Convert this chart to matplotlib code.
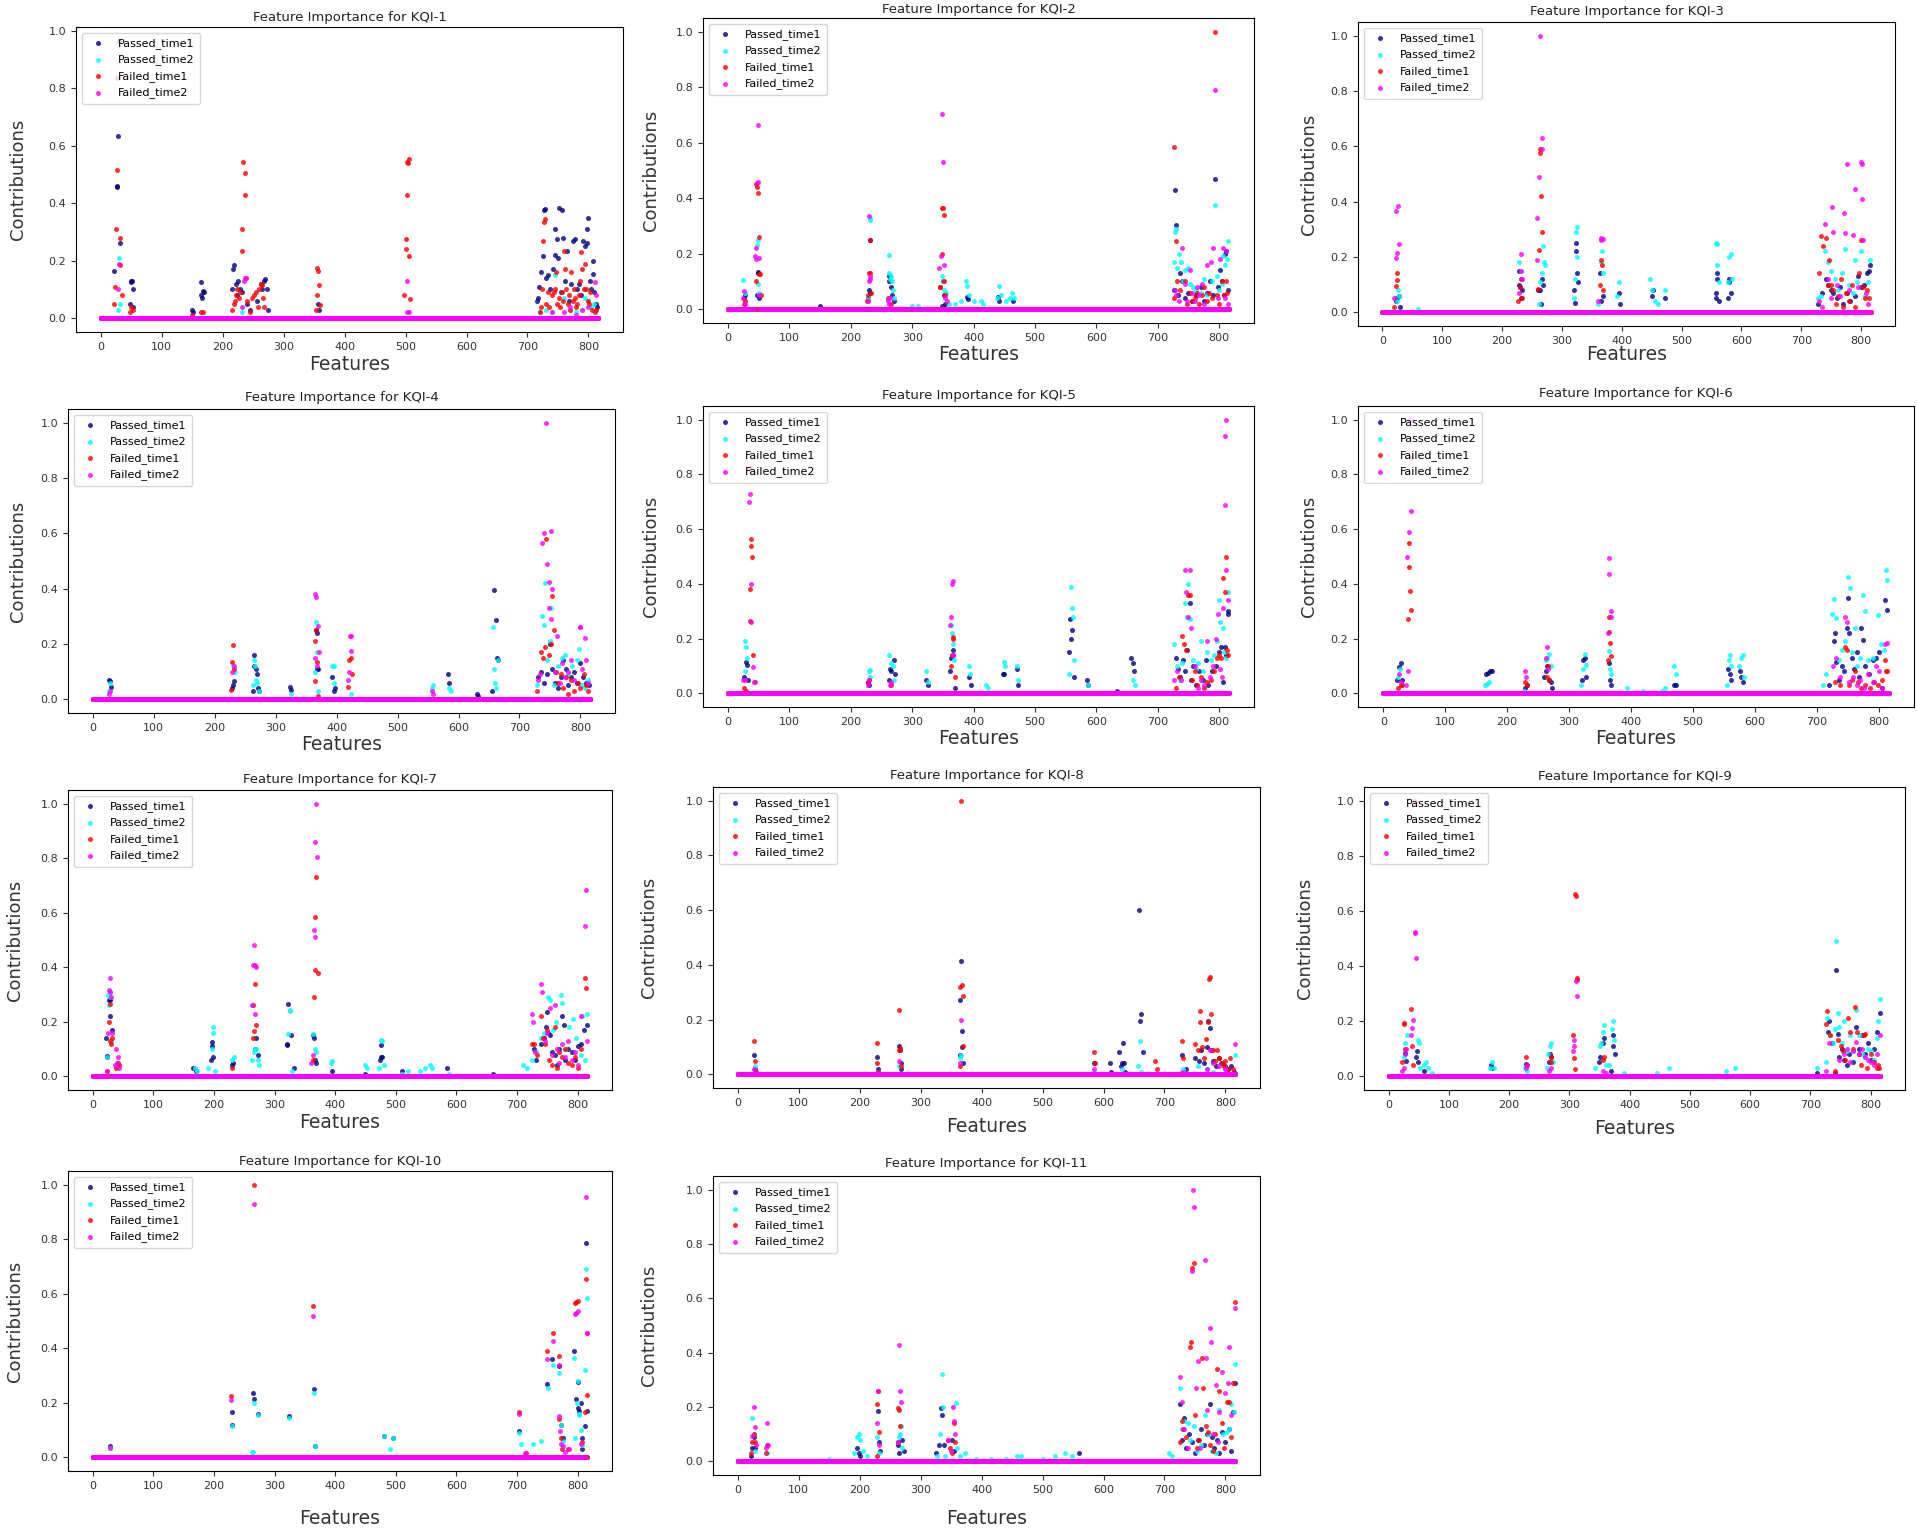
import numpy as np
import matplotlib.pyplot as plt

# 특성 개수, 시리즈 이름/색상
n_features = 817
series_names = ['Passed_time1', 'Passed_time2', 'Failed_time1', 'Failed_time2']
series_colors = ['navy', 'cyan', 'red', 'magenta']

# 0이 아닌 값만 (feature index, contribution) 형태로 기록, 나머지는 0
# KQI-1
kqi1_passed1 = [(22, 0.165), (26, 0.46), (27, 0.455), (28, 0.635), (30, 0.965), (32, 0.26), (48, 0.05), (49, 0.13),
                (50, 0.125), (51, 0.13), (52, 0.10), (53, 0.04), (149, 0.03), (151, 0.02), (164, 0.08), (165, 0.125),
                (166, 0.07), (168, 0.095), (169, 0.09), (215, 0.10), (217, 0.17), (219, 0.185), (221, 0.12), (223, 0.08),
                (225, 0.13), (228, 0.10), (232, 0.09), (240, 0.05), (244, 0.03), (256, 0.06), (262, 0.12), (265, 0.10),
                (268, 0.13), (270, 0.135), (272, 0.10), (274, 0.03), (356, 0.05), (358, 0.03), (715, 0.06), (717, 0.07),
                (719, 0.11), (723, 0.16), (725, 0.215), (727, 0.375), (729, 0.38), (730, 0.14), (733, 0.15), (737, 0.10),
                (742, 0.17), (745, 0.31), (746, 0.22), (749, 0.275), (750, 0.21), (752, 0.385), (755, 0.09), (757, 0.375),
                (759, 0.28), (762, 0.13), (765, 0.235), (768, 0.06), (771, 0.12), (775, 0.27), (778, 0.275), (781, 0.10),
                (784, 0.12), (788, 0.08), (791, 0.27), (795, 0.25), (797, 0.31), (798, 0.26), (800, 0.35), (803, 0.13),
                (805, 0.10), (807, 0.20), (808, 0.155), (810, 0.09), (812, 0.05), (814, 0.04)]
kqi1_passed2 = [(28, 0.03), (29, 0.21), (31, 0.05), (232, 0.02), (720, 0.02), (730, 0.03), (740, 0.02), (746, 0.15),
                (760, 0.07), (770, 0.03), (780, 0.02), (790, 0.03), (795, 0.07), (800, 0.06), (805, 0.04), (810, 0.05)]
kqi1_failed1 = [(22, 0.05), (24, 0.11), (25, 0.31), (26, 0.835), (27, 0.515), (31, 0.28), (32, 0.185), (34, 0.08),
                (48, 0.02), (50, 0.04), (52, 0.03), (150, 0.01), (165, 0.02), (168, 0.02), (216, 0.03), (218, 0.05),
                (220, 0.06), (222, 0.08), (224, 0.10), (226, 0.07), (229, 0.09), (231, 0.31), (232, 0.235), (234, 0.545),
                (236, 0.505), (237, 0.43), (238, 0.14), (240, 0.06), (245, 0.02), (248, 0.07), (252, 0.08), (255, 0.09),
                (258, 0.04), (260, 0.10), (262, 0.12), (264, 0.115), (266, 0.07), (268, 0.04), (353, 0.03), (354, 0.08),
                (355, 0.175), (357, 0.165), (358, 0.115), (359, 0.045), (498, 0.08), (500, 0.275), (501, 0.24),
                (502, 0.545), (503, 0.43), (504, 0.54), (505, 0.555), (506, 0.215), (507, 0.065), (720, 0.02),
                (722, 0.04), (724, 0.10), (726, 0.27), (727, 0.335), (728, 0.345), (731, 0.05), (733, 0.09), (736, 0.04),
                (740, 0.08), (743, 0.09), (745, 0.10), (747, 0.16), (749, 0.05), (752, 0.07), (754, 0.04), (756, 0.09),
                (758, 0.06), (760, 0.235), (762, 0.17), (764, 0.10), (766, 0.05), (768, 0.08), (770, 0.03), (772, 0.16),
                (774, 0.06), (776, 0.10), (778, 0.07), (780, 0.04), (782, 0.05), (784, 0.08), (786, 0.13), (788, 0.23),
                (790, 0.17), (792, 0.10), (794, 0.19), (796, 0.10), (799, 0.06), (801, 0.05), (803, 0.09), (806, 0.03),
                (811, 0.02), (813, 0.03)]
kqi1_failed2 = [(28, 0.10), (30, 0.19), (232, 0.04), (235, 0.13), (236, 0.14), (502, 0.13), (503, 0.02), (505, 0.02),
                (740, 0.02), (760, 0.02), (770, 0.04), (780, 0.01), (790, 0.03), (800, 0.04), (811, 0.125), (812, 0.08)]

# KQI-2
kqi2_passed1 = [(26, 0.04), (28, 0.05), (47, 0.05), (48, 0.135), (49, 0.13), (51, 0.04), (150, 0.01), (228, 0.04),
                (229, 0.07), (231, 0.25), (232, 0.06), (262, 0.12), (263, 0.10), (265, 0.08), (267, 0.05), (270, 0.03),
                (348, 0.01), (350, 0.10), (352, 0.05), (354, 0.02), (390, 0.045), (391, 0.035), (440, 0.045), (442, 0.03),
                (465, 0.03), (727, 0.07), (728, 0.43), (730, 0.305), (733, 0.05), (737, 0.13), (740, 0.10), (745, 0.04),
                (750, 0.06), (756, 0.03), (762, 0.05), (770, 0.08), (775, 0.03), (780, 0.06), (785, 0.10), (790, 0.05),
                (794, 0.47), (798, 0.08), (802, 0.14), (805, 0.10), (808, 0.05), (810, 0.20), (812, 0.21), (815, 0.07)]
kqi2_passed2 = [(25, 0.105), (28, 0.06), (47, 0.23), (48, 0.25), (49, 0.09), (50, 0.06), (228, 0.04), (231, 0.33),
                (232, 0.32), (262, 0.195), (263, 0.13), (264, 0.11), (265, 0.12), (267, 0.10), (269, 0.07), (271, 0.04),
                (300, 0.01), (310, 0.01), (349, 0.12), (350, 0.10), (352, 0.07), (355, 0.06), (360, 0.02), (370, 0.02),
                (380, 0.03), (388, 0.10), (390, 0.085), (392, 0.05), (400, 0.03), (412, 0.03), (415, 0.02), (438, 0.04),
                (441, 0.085), (444, 0.05), (452, 0.03), (460, 0.04), (463, 0.06), (466, 0.04), (726, 0.17), (728, 0.28),
                (729, 0.29), (732, 0.15), (735, 0.20), (738, 0.17), (741, 0.10), (745, 0.14), (749, 0.15), (752, 0.09),
                (757, 0.08), (763, 0.07), (770, 0.06), (775, 0.11), (780, 0.05), (788, 0.10), (794, 0.375), (796, 0.12),
                (800, 0.07), (804, 0.09), (807, 0.19), (810, 0.16), (813, 0.18), (815, 0.245)]
kqi2_failed1 = [(26, 0.02), (28, 0.03), (45, 0.10), (46, 0.45), (47, 0.44), (49, 0.42), (50, 0.26), (51, 0.125),
                (52, 0.125), (53, 0.05), (226, 0.03), (228, 0.05), (230, 0.13), (231, 0.13), (232, 0.25), (233, 0.06),
                (261, 0.04), (265, 0.02), (345, 0.08), (346, 0.08), (348, 0.20), (349, 0.365), (350, 0.365), (351, 0.34),
                (352, 0.10), (353, 0.05), (726, 0.04), (727, 0.585), (729, 0.245), (732, 0.10), (736, 0.07), (744, 0.10),
                (748, 0.02), (752, 0.06), (756, 0.03), (760, 0.04), (764, 0.06), (768, 0.02), (772, 0.05), (776, 0.08),
                (780, 0.03), (784, 0.06), (788, 0.04), (794, 1.0), (797, 0.05), (800, 0.02), (804, 0.10), (808, 0.05),
                (811, 0.10), (813, 0.06)]
kqi2_failed2 = [(24, 0.04), (26, 0.065), (28, 0.02), (44, 0.19), (45, 0.18), (46, 0.22), (47, 0.455), (48, 0.665),
                (49, 0.46), (50, 0.185), (51, 0.05), (228, 0.03), (229, 0.10), (230, 0.335), (231, 0.12), (232, 0.11),
                (260, 0.03), (262, 0.02), (264, 0.04), (344, 0.15), (347, 0.19), (348, 0.705), (350, 0.53), (352, 0.16),
                (354, 0.04), (356, 0.03), (728, 0.07), (730, 0.05), (734, 0.03), (739, 0.22), (744, 0.09), (748, 0.03),
                (752, 0.14), (756, 0.06), (760, 0.03), (764, 0.08), (768, 0.05), (772, 0.09), (776, 0.02), (781, 0.16),
                (786, 0.17), (790, 0.22), (794, 0.79), (798, 0.04), (802, 0.18), (806, 0.22), (810, 0.04), (812, 0.21),
                (814, 0.02)]

# KQI-3
kqi3_passed1 = [(23, 0.04), (25, 0.05), (28, 0.06), (29, 0.02), (228, 0.15), (229, 0.10), (230, 0.09), (231, 0.05),
                (233, 0.08), (260, 0.08), (263, 0.08), (265, 0.03), (267, 0.12), (268, 0.10), (321, 0.08), (322, 0.035),
                (323, 0.25), (324, 0.22), (326, 0.14), (327, 0.11), (364, 0.14), (366, 0.04), (368, 0.06), (395, 0.07),
                (397, 0.03), (451, 0.06), (453, 0.08), (472, 0.05), (557, 0.07), (558, 0.05), (559, 0.14), (560, 0.12),
                (562, 0.04), (577, 0.05), (579, 0.11), (580, 0.12), (583, 0.07), (728, 0.03), (735, 0.07), (742, 0.12),
                (744, 0.10), (750, 0.08), (754, 0.07), (760, 0.05), (765, 0.09), (770, 0.03), (776, 0.07), (782, 0.04),
                (790, 0.06), (795, 0.13), (800, 0.09), (805, 0.10), (810, 0.14), (813, 0.15), (815, 0.17)]
kqi3_passed2 = [(24, 0.04), (26, 0.08), (27, 0.06), (60, 0.01), (229, 0.18), (231, 0.12), (232, 0.15), (262, 0.03),
                (264, 0.11), (266, 0.14), (268, 0.24), (270, 0.18), (271, 0.17), (320, 0.05), (322, 0.12), (324, 0.29),
                (325, 0.31), (326, 0.20), (360, 0.03), (365, 0.18), (367, 0.22), (368, 0.14), (392, 0.06), (395, 0.11),
                (448, 0.12), (451, 0.08), (456, 0.04), (460, 0.03), (472, 0.08), (558, 0.25), (559, 0.245), (560, 0.17),
                (563, 0.11), (577, 0.11), (580, 0.20), (583, 0.21), (585, 0.12), (728, 0.05), (733, 0.06), (740, 0.22),
                (744, 0.18), (750, 0.15), (756, 0.12), (762, 0.08), (768, 0.14), (774, 0.23), (780, 0.10), (786, 0.07),
                (790, 0.19), (794, 0.11), (800, 0.22), (806, 0.06), (811, 0.11), (815, 0.19)]
kqi3_failed1 = [(20, 0.02), (22, 0.095), (24, 0.14), (25, 0.115), (226, 0.04), (230, 0.09), (231, 0.12), (233, 0.05),
                (260, 0.085), (262, 0.225), (263, 0.575), (264, 0.59), (265, 0.42), (267, 0.29), (364, 0.10),
                (366, 0.19), (367, 0.17), (369, 0.08), (730, 0.14), (733, 0.275), (737, 0.24), (741, 0.27), (744, 0.10),
                (747, 0.19), (750, 0.10), (754, 0.08), (758, 0.03), (762, 0.06), (766, 0.12), (770, 0.02), (775, 0.07),
                (780, 0.04), (785, 0.10), (790, 0.02), (796, 0.14), (800, 0.26), (803, 0.09), (806, 0.05), (810, 0.08),
                (813, 0.05)]
kqi3_failed2 = [(20, 0.05), (22, 0.365), (23, 0.195), (25, 0.215), (26, 0.385), (28, 0.245), (228, 0.07), (231, 0.15),
                (232, 0.21), (233, 0.12), (258, 0.19), (259, 0.34), (261, 0.49), (264, 1.0), (266, 0.59), (267, 0.63),
                (361, 0.04), (365, 0.27), (366, 0.26), (368, 0.265), (730, 0.04), (735, 0.02), (740, 0.32), (745, 0.12),
                (750, 0.05), (752, 0.38), (753, 0.29), (760, 0.10), (765, 0.06), (772, 0.36), (774, 0.285),
                (777, 0.535), (780, 0.08), (787, 0.28), (790, 0.445), (795, 0.09), (800, 0.545), (801, 0.535),
                (802, 0.41), (804, 0.26), (808, 0.07), (812, 0.03)]

# KQI-4
kqi4_passed1 = [(27, 0.07), (28, 0.065), (30, 0.045), (228, 0.04), (230, 0.05), (232, 0.065), (262, 0.03), (264, 0.16),
                (265, 0.12), (267, 0.11), (269, 0.09), (271, 0.04), (273, 0.03), (323, 0.045), (325, 0.035), (366, 0.25),
                (367, 0.24), (368, 0.11), (370, 0.11), (393, 0.08), (395, 0.03), (397, 0.04), (583, 0.09), (585, 0.06),
                (630, 0.02), (632, 0.01), (655, 0.03), (659, 0.395), (661, 0.285), (663, 0.15), (665, 0.14), (730, 0.08),
                (735, 0.10), (740, 0.06), (745, 0.09), (750, 0.20), (753, 0.11), (758, 0.06), (763, 0.04), (768, 0.08),
                (772, 0.14), (776, 0.11), (780, 0.05), (785, 0.08), (790, 0.10), (795, 0.06), (800, 0.13), (805, 0.08),
                (810, 0.06), (814, 0.05)]
kqi4_passed2 = [(26, 0.03), (28, 0.06), (230, 0.12), (233, 0.10), (262, 0.05), (264, 0.14), (266, 0.12), (268, 0.07),
                (270, 0.06), (272, 0.03), (325, 0.02), (364, 0.10), (366, 0.28), (368, 0.17), (370, 0.03), (393, 0.12),
                (395, 0.12), (396, 0.06), (424, 0.02), (556, 0.04), (558, 0.05), (585, 0.04), (588, 0.03), (657, 0.26),
                (659, 0.11), (660, 0.06), (662, 0.04), (665, 0.14), (728, 0.05), (737, 0.30), (740, 0.27), (742, 0.42),
                (746, 0.14), (750, 0.21), (752, 0.33), (756, 0.05), (760, 0.10), (764, 0.12), (770, 0.15), (775, 0.16),
                (780, 0.09), (786, 0.12), (795, 0.14), (798, 0.18), (803, 0.05), (808, 0.04), (812, 0.07)]
kqi4_failed1 = [(226, 0.035), (228, 0.135), (230, 0.195), (232, 0.11), (364, 0.065), (365, 0.21), (366, 0.25),
                (368, 0.135), (370, 0.01), (419, 0.045), (421, 0.14), (423, 0.15), (425, 0.09), (728, 0.03), (735, 0.17),
                (738, 0.15), (742, 0.19), (744, 0.58), (748, 0.16), (751, 0.20), (753, 0.375), (756, 0.25), (760, 0.10),
                (764, 0.06), (768, 0.09), (772, 0.04), (776, 0.08), (780, 0.02), (784, 0.07), (790, 0.03), (796, 0.06),
                (800, 0.04), (806, 0.09), (810, 0.05), (813, 0.03)]
kqi4_failed2 = [(26, 0.02), (28, 0.03), (229, 0.10), (231, 0.12), (364, 0.15), (365, 0.38), (366, 0.37), (367, 0.12),
                (369, 0.265), (371, 0.17), (418, 0.07), (420, 0.10), (422, 0.23), (423, 0.23), (424, 0.175), (556, 0.03),
                (558, 0.02), (730, 0.07), (734, 0.09), (737, 0.565), (741, 0.60), (744, 1.0), (745, 0.49), (748, 0.425),
                (749, 0.33), (751, 0.29), (752, 0.61), (754, 0.40), (758, 0.10), (762, 0.23), (766, 0.06), (770, 0.13),
                (775, 0.08), (780, 0.10), (785, 0.14), (790, 0.07), (799, 0.26), (800, 0.26), (803, 0.11), (807, 0.22),
                (810, 0.14), (813, 0.06)]

# KQI-5
kqi5_passed1 = [(26, 0.06), (29, 0.115), (31, 0.105), (33, 0.05), (228, 0.04), (230, 0.03), (262, 0.05), (264, 0.09),
                (266, 0.08), (270, 0.12), (272, 0.07), (323, 0.05), (325, 0.03), (362, 0.08), (364, 0.13), (366, 0.16),
                (367, 0.14), (369, 0.02), (393, 0.06), (395, 0.03), (448, 0.07), (450, 0.07), (470, 0.09), (472, 0.03),
                (556, 0.15), (557, 0.27), (559, 0.20), (561, 0.23), (563, 0.06), (585, 0.05), (587, 0.03), (633, 0.01),
                (657, 0.13), (659, 0.11), (661, 0.08), (730, 0.13), (733, 0.09), (737, 0.06), (741, 0.12), (744, 0.08),
                (748, 0.16), (752, 0.33), (754, 0.05), (758, 0.10), (762, 0.03), (768, 0.08), (773, 0.05), (778, 0.12),
                (782, 0.03), (788, 0.08), (795, 0.10), (800, 0.15), (803, 0.17), (806, 0.04), (810, 0.17), (812, 0.14),
                (814, 0.29), (815, 0.30)]
kqi5_passed2 = [(27, 0.08), (28, 0.19), (30, 0.17), (31, 0.13), (229, 0.08), (231, 0.085), (232, 0.06), (262, 0.14),
                (265, 0.11), (268, 0.10), (270, 0.05), (323, 0.08), (325, 0.04), (364, 0.25), (365, 0.22), (367, 0.18),
                (368, 0.12), (393, 0.10), (394, 0.07), (420, 0.03), (423, 0.02), (449, 0.115), (451, 0.10), (470, 0.10),
                (473, 0.05), (556, 0.07), (558, 0.39), (560, 0.31), (562, 0.28), (564, 0.12), (586, 0.03), (660, 0.05),
                (663, 0.03), (727, 0.18), (732, 0.10), (736, 0.05), (740, 0.11), (744, 0.33), (748, 0.28), (750, 0.40),
                (753, 0.27), (758, 0.12), (762, 0.09), (766, 0.11), (770, 0.19), (774, 0.08), (780, 0.15), (786, 0.12),
                (792, 0.14), (797, 0.19), (800, 0.34), (802, 0.26), (806, 0.24), (808, 0.15), (812, 0.13), (815, 0.37)]
kqi5_failed1 = [(26, 0.02), (29, 0.01), (35, 0.265), (36, 0.38), (37, 0.54), (38, 0.565), (39, 0.50), (41, 0.14),
                (44, 0.04), (228, 0.04), (230, 0.05), (266, 0.03), (364, 0.10), (365, 0.14), (366, 0.20), (367, 0.205),
                (369, 0.06), (730, 0.02), (735, 0.06), (740, 0.21), (743, 0.18), (746, 0.16), (749, 0.36), (752, 0.36),
                (756, 0.05), (760, 0.08), (764, 0.03), (770, 0.06), (776, 0.02), (780, 0.04), (786, 0.05), (792, 0.08),
                (796, 0.13), (800, 0.14), (803, 0.13), (807, 0.42), (809, 0.37), (811, 0.50), (813, 0.16), (815, 0.14)]
kqi5_failed2 = [(24, 0.05), (27, 0.05), (34, 0.70), (35, 0.825), (36, 0.73), (37, 0.40), (38, 0.26), (40, 0.095),
                (42, 0.04), (228, 0.03), (230, 0.05), (264, 0.03), (266, 0.04), (362, 0.25), (364, 0.28), (365, 0.40),
                (366, 0.41), (367, 0.14), (726, 0.05), (732, 0.08), (738, 0.05), (744, 0.45), (746, 0.37), (750, 0.28),
                (752, 0.45), (754, 0.24), (760, 0.10), (765, 0.02), (770, 0.05), (775, 0.03), (780, 0.19), (785, 0.06),
                (790, 0.10), (795, 0.20), (798, 0.29), (801, 0.09), (804, 0.06), (806, 0.31), (809, 0.69), (810, 0.94),
                (811, 1.0), (812, 0.45), (814, 0.34)]

# KQI-6
kqi6_passed1 = [(22, 0.05), (25, 0.095), (28, 0.11), (30, 0.05), (166, 0.07), (169, 0.075), (172, 0.08), (175, 0.08),
                (229, 0.02), (232, 0.03), (260, 0.06), (262, 0.08), (265, 0.10), (268, 0.05), (270, 0.04), (272, 0.02),
                (321, 0.05), (323, 0.12), (325, 0.13), (327, 0.06), (364, 0.11), (366, 0.05), (368, 0.03), (470, 0.03),
                (473, 0.03), (557, 0.09), (559, 0.07), (562, 0.05), (576, 0.08), (578, 0.06), (581, 0.04), (720, 0.03),
                (727, 0.19), (729, 0.22), (731, 0.115), (735, 0.05), (740, 0.10), (744, 0.08), (748, 0.24), (750, 0.35),
                (752, 0.22), (756, 0.13), (760, 0.09), (764, 0.15), (768, 0.06), (772, 0.24), (774, 0.195), (778, 0.10),
                (784, 0.07), (790, 0.12), (796, 0.13), (800, 0.15), (805, 0.02), (810, 0.34), (813, 0.305)]
kqi6_passed2 = [(24, 0.06), (27, 0.09), (164, 0.03), (168, 0.035), (171, 0.04), (227, 0.01), (262, 0.12), (265, 0.13),
                (267, 0.145), (270, 0.10), (320, 0.03), (323, 0.09), (325, 0.145), (327, 0.105), (364, 0.155),
                (366, 0.09), (368, 0.07), (393, 0.02), (420, 0.01), (450, 0.01), (455, 0.02), (470, 0.10), (472, 0.07),
                (555, 0.03), (558, 0.12), (560, 0.14), (562, 0.10), (575, 0.10), (578, 0.13), (580, 0.14), (582, 0.06),
                (710, 0.03), (715, 0.07), (725, 0.29), (727, 0.345), (731, 0.275), (735, 0.12), (740, 0.16), (745, 0.19),
                (751, 0.425), (753, 0.385), (757, 0.15), (761, 0.24), (765, 0.10), (770, 0.13), (775, 0.36), (777, 0.30),
                (782, 0.12), (790, 0.13), (798, 0.285), (803, 0.18), (808, 0.16), (811, 0.45), (814, 0.415)]
kqi6_failed1 = [(24, 0.02), (28, 0.03), (31, 0.03), (40, 0.27), (41, 0.46), (42, 0.55), (43, 0.375), (44, 0.305),
                (45, 0.86), (229, 0.04), (232, 0.03), (264, 0.06), (266, 0.10), (268, 0.05), (363, 0.12), (364, 0.225),
                (365, 0.28), (366, 0.185), (368, 0.135), (730, 0.04), (738, 0.03), (745, 0.17), (748, 0.16), (752, 0.03),
                (756, 0.05), (762, 0.08), (766, 0.04), (772, 0.02), (778, 0.03), (785, 0.02), (792, 0.04), (798, 0.03),
                (805, 0.05), (810, 0.12), (812, 0.08), (814, 0.08)]
kqi6_failed2 = [(25, 0.07), (28, 0.04), (37, 0.03), (39, 0.50), (40, 0.08), (42, 0.59), (43, 1.0), (44, 0.665),
                (229, 0.08), (231, 0.06), (262, 0.13), (264, 0.17), (266, 0.09), (362, 0.22), (364, 0.435), (365, 0.495),
                (367, 0.30), (368, 0.28), (726, 0.10), (731, 0.13), (738, 0.06), (745, 0.28), (748, 0.26), (752, 0.04),
                (758, 0.06), (764, 0.03), (770, 0.05), (776, 0.02), (782, 0.07), (790, 0.04), (795, 0.10), (800, 0.08),
                (805, 0.02), (810, 0.18), (813, 0.185)]

# KQI-7
kqi7_passed1 = [(22, 0.14), (23, 0.075), (24, 0.07), (27, 0.28), (28, 0.28), (29, 0.22), (31, 0.17), (165, 0.03),
                (170, 0.02), (195, 0.06), (196, 0.11), (197, 0.125), (199, 0.07), (230, 0.04), (232, 0.05), (268, 0.10),
                (270, 0.14), (272, 0.08), (320, 0.12), (321, 0.115), (323, 0.265), (327, 0.15), (332, 0.03), (364, 0.15),
                (365, 0.14), (367, 0.06), (368, 0.05), (395, 0.02), (450, 0.01), (474, 0.06), (475, 0.07), (476, 0.115),
                (478, 0.07), (510, 0.02), (585, 0.03), (660, 0.01), (728, 0.10), (732, 0.06), (740, 0.12), (745, 0.14),
                (748, 0.18), (750, 0.235), (752, 0.16), (755, 0.15), (758, 0.09), (762, 0.08), (766, 0.04), (770, 0.10),
                (775, 0.22), (777, 0.19), (780, 0.06), (785, 0.10), (790, 0.09), (795, 0.06), (800, 0.11), (805, 0.12),
                (810, 0.17), (815, 0.19)]
kqi7_passed2 = [(24, 0.07), (26, 0.30), (27, 0.26), (28, 0.31), (29, 0.29), (30, 0.13), (168, 0.03), (172, 0.02),
                (190, 0.03), (196, 0.10), (198, 0.18), (199, 0.16), (201, 0.02), (230, 0.06), (233, 0.07), (262, 0.06),
                (266, 0.09), (268, 0.10), (270, 0.10), (272, 0.06), (274, 0.04), (322, 0.155), (325, 0.24), (326, 0.245),
                (328, 0.02), (364, 0.155), (366, 0.10), (368, 0.09), (393, 0.05), (395, 0.055), (450, 0.04), (452, 0.03),
                (472, 0.03), (476, 0.135), (478, 0.13), (480, 0.04), (510, 0.01), (520, 0.02), (540, 0.02), (548, 0.03),
                (556, 0.04), (560, 0.03), (588, 0.01), (710, 0.04), (716, 0.03), (725, 0.06), (732, 0.09), (740, 0.14),
                (745, 0.16), (752, 0.29), (755, 0.28), (760, 0.17), (765, 0.20), (772, 0.30), (774, 0.27), (780, 0.10),
                (786, 0.18), (792, 0.21), (798, 0.14), (805, 0.08), (808, 0.22), (812, 0.06), (816, 0.23)]
kqi7_failed1 = [(24, 0.02), (27, 0.20), (28, 0.265), (29, 0.13), (30, 0.12), (31, 0.14), (38, 0.03), (42, 0.05),
                (44, 0.04), (230, 0.03), (264, 0.14), (265, 0.26), (266, 0.165), (267, 0.34), (270, 0.19), (363, 0.06),
                (365, 0.29), (366, 0.585), (367, 0.39), (368, 0.73), (371, 0.38), (725, 0.12), (728, 0.12), (733, 0.08),
                (740, 0.22), (743, 0.14), (746, 0.12), (750, 0.17), (753, 0.06), (757, 0.04), (762, 0.18), (766, 0.03),
                (770, 0.09), (775, 0.07), (780, 0.10), (785, 0.05), (790, 0.04), (795, 0.07), (800, 0.03), (805, 0.10),
                (812, 0.36), (814, 0.325)]
kqi7_failed2 = [(24, 0.02), (26, 0.16), (27, 0.315), (28, 0.31), (29, 0.36), (30, 0.29), (31, 0.16), (36, 0.04),
                (38, 0.10), (40, 0.05), (42, 0.07), (44, 0.03), (263, 0.26), (264, 0.41), (266, 0.48), (267, 0.23),
                (268, 0.41), (270, 0.40), (360, 0.05), (363, 0.08), (365, 0.535), (366, 0.86), (367, 0.51), (368, 1.0),
                (370, 0.805), (725, 0.23), (726, 0.20), (730, 0.09), (740, 0.34), (742, 0.31), (746, 0.13), (750, 0.16),
                (754, 0.25), (758, 0.08), (762, 0.26), (766, 0.10), (770, 0.05), (775, 0.12), (780, 0.07), (785, 0.13),
                (790, 0.06), (795, 0.09), (800, 0.04), (805, 0.22), (812, 0.55), (814, 0.685), (815, 0.13)]

# KQI-8
kqi8_passed1 = [(27, 0.07), (28, 0.02), (228, 0.065), (230, 0.02), (264, 0.105), (266, 0.09), (267, 0.04), (268, 0.02),
                (364, 0.07), (365, 0.27), (366, 0.415), (367, 0.16), (368, 0.10), (369, 0.04), (585, 0.04), (610, 0.04),
                (612, 0.01), (626, 0.08), (628, 0.03), (630, 0.04), (632, 0.115), (634, 0.04), (636, 0.01), (659, 0.60),
                (660, 0.195), (661, 0.22), (664, 0.08), (728, 0.07), (735, 0.02), (750, 0.06), (756, 0.05), (760, 0.09),
                (765, 0.04), (770, 0.10), (772, 0.195), (774, 0.17), (777, 0.09), (780, 0.05), (785, 0.03), (790, 0.06),
                (795, 0.04), (800, 0.03), (805, 0.02), (810, 0.03), (814, 0.01)]
kqi8_passed2 = [(28, 0.03), (230, 0.01), (265, 0.03), (364, 0.06), (366, 0.07), (585, 0.01), (630, 0.02), (657, 0.03),
                (660, 0.12), (662, 0.01), (730, 0.02), (755, 0.03), (770, 0.02), (780, 0.01), (800, 0.02), (815, 0.07)]
kqi8_failed1 = [(27, 0.12), (28, 0.05), (29, 0.01), (228, 0.115), (229, 0.04), (230, 0.01), (264, 0.235), (265, 0.09),
                (266, 0.095), (268, 0.03), (364, 0.03), (365, 0.32), (366, 1.0), (367, 0.325), (369, 0.285), (370, 0.105),
                (585, 0.08), (586, 0.04), (685, 0.05), (687, 0.02), (728, 0.12), (730, 0.06), (750, 0.11), (755, 0.09),
                (758, 0.19), (759, 0.23), (762, 0.10), (765, 0.06), (768, 0.13), (771, 0.19), (773, 0.35), (775, 0.355),
                (777, 0.22), (780, 0.09), (783, 0.05), (786, 0.09), (790, 0.06), (793, 0.04), (797, 0.03), (800, 0.05),
                (804, 0.02), (808, 0.06), (812, 0.02)]
kqi8_failed2 = [(27, 0.02), (264, 0.05), (365, 0.04), (366, 0.20), (585, 0.02), (728, 0.01), (770, 0.02), (775, 0.09),
                (780, 0.04), (790, 0.03), (800, 0.02), (815, 0.11)]

# KQI-9
kqi9_passed1 = [(27, 0.085), (29, 0.055), (46, 0.07), (47, 0.09), (49, 0.05), (58, 0.02), (170, 0.04), (172, 0.03),
                (228, 0.045), (266, 0.05), (268, 0.08), (270, 0.07), (349, 0.05), (350, 0.07), (355, 0.12), (357, 0.14),
                (369, 0.02), (372, 0.11), (373, 0.15), (375, 0.08), (710, 0.01), (729, 0.16), (731, 0.20), (735, 0.12),
                (740, 0.01), (743, 0.385), (745, 0.155), (748, 0.07), (752, 0.10), (756, 0.06), (760, 0.04), (764, 0.08),
                (770, 0.05), (775, 0.18), (780, 0.10), (786, 0.15), (790, 0.08), (796, 0.12), (800, 0.06), (805, 0.10),
                (810, 0.16), (815, 0.23)]
kqi9_passed2 = [(25, 0.07), (28, 0.12), (30, 0.15), (48, 0.13), (50, 0.12), (52, 0.03), (58, 0.04), (62, 0.05),
                (65, 0.03), (72, 0.01), (169, 0.03), (172, 0.05), (175, 0.03), (226, 0.03), (230, 0.02), (262, 0.03),
                (265, 0.08), (268, 0.11), (270, 0.12), (272, 0.05), (343, 0.03), (350, 0.11), (353, 0.12), (355, 0.16),
                (357, 0.185), (360, 0.04), (366, 0.04), (370, 0.17), (372, 0.20), (374, 0.13), (390, 0.01), (445, 0.01),
                (465, 0.03), (560, 0.02), (575, 0.03), (710, 0.03), (725, 0.05), (728, 0.21), (733, 0.15), (737, 0.12),
                (740, 0.17), (743, 0.49), (745, 0.23), (748, 0.18), (752, 0.12), (756, 0.20), (760, 0.09), (765, 0.15),
                (770, 0.09), (775, 0.24), (780, 0.15), (786, 0.08), (790, 0.07), (795, 0.10), (800, 0.09), (805, 0.06),
                (810, 0.14), (812, 0.20), (815, 0.28)]
kqi9_failed1 = [(22, 0.05), (25, 0.19), (26, 0.195), (28, 0.10), (38, 0.245), (39, 0.11), (41, 0.04), (43, 1.0),
                (228, 0.07), (230, 0.04), (269, 0.07), (270, 0.05), (306, 0.15), (307, 0.065), (309, 0.025), (310, 0.66),
                (311, 0.655), (312, 0.35), (313, 0.355), (355, 0.06), (358, 0.07), (725, 0.19), (728, 0.235), (732, 0.15),
                (740, 0.02), (745, 0.13), (750, 0.11), (754, 0.09), (758, 0.06), (762, 0.21), (765, 0.16), (770, 0.10),
                (774, 0.25), (777, 0.16), (780, 0.08), (784, 0.04), (788, 0.15), (790, 0.155), (794, 0.03), (800, 0.08),
                (805, 0.05), (810, 0.03), (812, 0.04), (814, 0.03)]
kqi9_failed2 = [(22, 0.02), (26, 0.03), (28, 0.08), (29, 0.10), (38, 0.15), (39, 0.175), (41, 0.205), (43, 0.52),
                (44, 0.525), (45, 0.43), (228, 0.03), (230, 0.04), (266, 0.02), (270, 0.03), (306, 0.09), (307, 0.11),
                (308, 0.13), (311, 0.345), (312, 0.29), (355, 0.02), (360, 0.01), (725, 0.02), (730, 0.12), (748, 0.06),
                (755, 0.08), (760, 0.10), (765, 0.05), (770, 0.09), (775, 0.125), (780, 0.08), (785, 0.10), (790, 0.07),
                (795, 0.06), (800, 0.05), (805, 0.04), (810, 0.08), (815, 0.15)]

# KQI-10
kqi10_passed1 = [(28, 0.04), (229, 0.165), (230, 0.12), (264, 0.235), (266, 0.215), (272, 0.16), (324, 0.15),
                 (365, 0.25), (366, 0.04), (480, 0.08), (495, 0.07), (703, 0.095), (750, 0.27), (758, 0.36),
                 (769, 0.335), (772, 0.12), (776, 0.07), (794, 0.39), (797, 0.215), (800, 0.275), (801, 0.18),
                 (803, 0.17), (805, 0.20), (807, 0.07), (808, 0.03), (812, 0.115), (814, 0.785), (816, 0.17)]
kqi10_passed2 = [(28, 0.035), (230, 0.115), (262, 0.02), (264, 0.02), (266, 0.20), (272, 0.155), (324, 0.145),
                 (365, 0.235), (366, 0.04), (480, 0.08), (490, 0.03), (495, 0.07), (704, 0.09), (706, 0.05),
                 (727, 0.05), (740, 0.06), (751, 0.255), (759, 0.34), (769, 0.31), (773, 0.12), (776, 0.06),
                 (794, 0.365), (795, 0.07), (799, 0.20), (800, 0.28), (802, 0.155), (803, 0.16), (805, 0.10),
                 (807, 0.045), (813, 0.32), (814, 0.69), (816, 0.585)]
kqi10_failed1 = [(228, 0.225), (266, 1.0), (364, 0.555), (703, 0.165), (715, 0.015), (750, 0.39), (760, 0.455),
                 (769, 0.37), (770, 0.14), (772, 0.07), (775, 0.03), (784, 0.03), (795, 0.565), (798, 0.57),
                 (801, 0.575), (807, 0.055), (812, 0.165), (814, 0.655), (816, 0.23)]
kqi10_failed2 = [(28, 0.035), (228, 0.21), (266, 0.93), (364, 0.52), (703, 0.16), (714, 0.015), (750, 0.36),
                 (760, 0.425), (769, 0.34), (770, 0.15), (771, 0.095), (773, 0.05), (776, 0.04), (780, 0.02),
                 (786, 0.03), (795, 0.525), (798, 0.53), (800, 0.535), (806, 0.05), (814, 0.955), (815, 0.455),
                 (816, 0.455)]

# KQI-11
kqi11_passed1 = [(22, 0.02), (24, 0.05), (26, 0.09), (28, 0.05), (196, 0.05), (198, 0.03), (200, 0.02), (230, 0.185),
                 (231, 0.07), (233, 0.04), (262, 0.06), (265, 0.03), (270, 0.08), (272, 0.04), (325, 0.03), (330, 0.06),
                 (333, 0.195), (335, 0.17), (338, 0.06), (352, 0.08), (355, 0.04), (560, 0.03), (725, 0.21), (728, 0.08),
                 (732, 0.16), (735, 0.05), (740, 0.10), (745, 0.07), (750, 0.03), (755, 0.08), (760, 0.12), (765, 0.06),
                 (770, 0.10), (775, 0.21), (778, 0.09), (782, 0.05), (786, 0.08), (790, 0.03), (795, 0.11), (800, 0.07),
                 (806, 0.12), (810, 0.04), (813, 0.18), (815, 0.29)]
kqi11_passed2 = [(24, 0.16), (26, 0.10), (28, 0.04), (48, 0.03), (150, 0.01), (190, 0.03), (196, 0.09), (198, 0.10),
                 (200, 0.08), (205, 0.04), (212, 0.02), (228, 0.09), (232, 0.03), (262, 0.07), (264, 0.09), (266, 0.10),
                 (268, 0.13), (270, 0.05), (326, 0.02), (332, 0.10), (335, 0.32), (337, 0.20), (340, 0.02), (358, 0.215),
                 (360, 0.05), (365, 0.02), (372, 0.03), (390, 0.01), (415, 0.01), (440, 0.01), (458, 0.02), (465, 0.02),
                 (500, 0.01), (520, 0.02), (537, 0.03), (548, 0.02), (707, 0.03), (712, 0.02), (725, 0.27), (728, 0.12),
                 (732, 0.15), (738, 0.14), (742, 0.08), (748, 0.13), (754, 0.04), (760, 0.06), (766, 0.17), (772, 0.10),
                 (778, 0.04), (784, 0.03), (790, 0.19), (796, 0.10), (802, 0.11), (806, 0.12), (810, 0.21), (814, 0.18),
                 (815, 0.36)]
kqi11_failed1 = [(22, 0.03), (24, 0.07), (27, 0.10), (28, 0.07), (46, 0.03), (48, 0.06), (228, 0.02), (229, 0.21),
                 (230, 0.26), (232, 0.11), (262, 0.07), (263, 0.195), (264, 0.19), (266, 0.13), (345, 0.08), (348, 0.05),
                 (352, 0.03), (355, 0.14), (357, 0.07), (725, 0.07), (728, 0.15), (731, 0.12), (735, 0.09), (742, 0.42),
                 (744, 0.44), (746, 0.71), (748, 0.73), (750, 0.17), (753, 0.05), (757, 0.08), (761, 0.38), (764, 0.27),
                 (768, 0.13), (771, 0.11), (775, 0.06), (779, 0.04), (783, 0.10), (787, 0.34), (790, 0.26), (794, 0.14),
                 (798, 0.05), (802, 0.22), (806, 0.22), (810, 0.09), (813, 0.29), (815, 0.585)]
kqi11_failed2 = [(24, 0.095), (26, 0.20), (28, 0.125), (30, 0.06), (46, 0.05), (48, 0.14), (50, 0.06), (228, 0.14),
                 (230, 0.26), (232, 0.06), (262, 0.07), (264, 0.43), (266, 0.26), (268, 0.22), (345, 0.08), (350, 0.04),
                 (353, 0.20), (354, 0.15), (356, 0.10), (725, 0.31), (728, 0.22), (732, 0.12), (738, 0.05), (745, 0.70),
                 (747, 1.0), (749, 0.935), (752, 0.27), (755, 0.37), (758, 0.05), (767, 0.74), (769, 0.38), (770, 0.19),
                 (774, 0.49), (776, 0.44), (780, 0.10), (784, 0.28), (788, 0.07), (790, 0.18), (795, 0.33), (800, 0.25),
                 (804, 0.29), (806, 0.42), (810, 0.17), (815, 0.565)]

kqi_list = [
    ('KQI-1', kqi1_passed1, kqi1_passed2, kqi1_failed1, kqi1_failed2),
    ('KQI-2', kqi2_passed1, kqi2_passed2, kqi2_failed1, kqi2_failed2),
    ('KQI-3', kqi3_passed1, kqi3_passed2, kqi3_failed1, kqi3_failed2),
    ('KQI-4', kqi4_passed1, kqi4_passed2, kqi4_failed1, kqi4_failed2),
    ('KQI-5', kqi5_passed1, kqi5_passed2, kqi5_failed1, kqi5_failed2),
    ('KQI-6', kqi6_passed1, kqi6_passed2, kqi6_failed1, kqi6_failed2),
    ('KQI-7', kqi7_passed1, kqi7_passed2, kqi7_failed1, kqi7_failed2),
    ('KQI-8', kqi8_passed1, kqi8_passed2, kqi8_failed1, kqi8_failed2),
    ('KQI-9', kqi9_passed1, kqi9_passed2, kqi9_failed1, kqi9_failed2),
    ('KQI-10', kqi10_passed1, kqi10_passed2, kqi10_failed1, kqi10_failed2),
    ('KQI-11', kqi11_passed1, kqi11_passed2, kqi11_failed1, kqi11_failed2),
]

# 패널 위치 (픽셀): left, top, right, bottom, title_y, ylabel_x, xlabel_y
panel_boxes = [
    (76, 27, 623, 332, 18, 18, 364),
    (703, 18, 1254, 323, 9, 651, 355),
    (1358, 22, 1895, 326, 12, 1309, 355),
    (68, 409, 615, 713, 398, 18, 744),
    (703, 406, 1254, 707, 395, 651, 739),
    (1358, 406, 1914, 707, 393, 1309, 739),
    (68, 790, 612, 1090, 779, 15, 1122),
    (713, 787, 1260, 1088, 776, 649, 1126),
    (1364, 787, 1905, 1090, 776, 1305, 1128),
    (68, 1171, 612, 1471, 1161, 15, 1519),
    (713, 1176, 1260, 1475, 1163, 649, 1519),
]

W, H = 1917, 1528


def to_array(pairs):
    """희소 (index, value) 목록을 전체 특성 배열로 변환"""
    values = np.zeros(n_features)
    for idx, val in pairs:
        values[idx] = val
    return values


fig = plt.figure(figsize=(W / 100, H / 100), dpi=100)
features = np.arange(n_features)

for (name, *series), box in zip(kqi_list, panel_boxes):
    left, top, right, bottom, title_y, ylabel_x, xlabel_y = box
    ax = fig.add_axes([left / W, 1 - bottom / H, (right - left) / W, (bottom - top) / H])
    for pairs, label, color in zip(series, series_names, series_colors):
        ax.scatter(features, to_array(pairs), s=13, c=color, alpha=0.8, linewidths=0, label=label)
    ax.set_xticks(range(0, 900, 100))
    ax.set_yticks([0.0, 0.2, 0.4, 0.6, 0.8, 1.0])
    ax.tick_params(labelsize=8, colors='#333333')
    ax.set_title('Feature Importance for ' + name, fontsize=9.5, color='#222222', va='center', pad=0,
                 y=1 + (top - title_y) / (bottom - top))
    ax.set_xlabel('Features', fontsize=13.5, color='#333333', va='center')
    ax.xaxis.set_label_coords(0.5, -(xlabel_y - bottom) / (bottom - top))
    ax.set_ylabel('Contributions', fontsize=13, color='#333333', va='center', ha='center')
    ax.yaxis.set_label_coords((ylabel_x - left) / (right - left), 0.5)
    ax.legend(loc='upper left', fontsize=8, scatterpoints=1, handletextpad=0.8, borderpad=0.5)

fig.savefig('out.png', dpi=100, facecolor='white')
